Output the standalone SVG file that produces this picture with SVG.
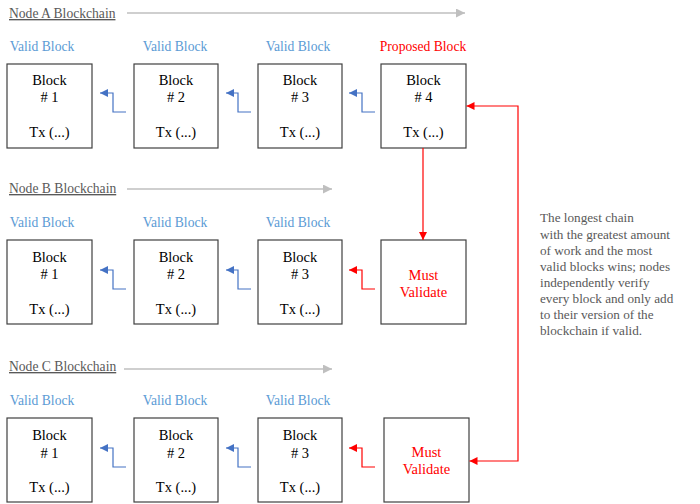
<svg xmlns="http://www.w3.org/2000/svg" width="700" height="504" viewBox="0 0 700 504">
<style>
text{font-family:"Liberation Serif","Times New Roman",serif}
.box{fill:#fff;stroke:#404040;stroke-width:1.2}
.bt{font-size:14.5px;fill:#000;text-anchor:middle}
.rt{font-size:14.5px;fill:#ff0000;text-anchor:middle}
.vl{font-size:13.6px;fill:#5b9bd5;text-anchor:middle}
.pl{font-size:13.6px;fill:#ff0000;text-anchor:middle}
.ti{font-size:13.6px;fill:#595959;text-decoration:underline}
.note{font-size:13.2px;fill:#595959}
.blue{fill:none;stroke:#4472c4;stroke-width:1.2}
.red{fill:none;stroke:#ff0000;stroke-width:1.2}
.gray{fill:none;stroke:#bfbfbf;stroke-width:1.5}
</style>
<defs>
<marker id="ab" viewBox="0 0 10 10" refX="10" refY="5" markerWidth="9" markerHeight="8" markerUnits="userSpaceOnUse" orient="auto"><path d="M0,0L10,5L0,10z" fill="#4472c4"/></marker>
<marker id="ar" viewBox="0 0 10 10" refX="10" refY="5" markerWidth="9" markerHeight="8" markerUnits="userSpaceOnUse" orient="auto-start-reverse"><path d="M0,0L10,5L0,10z" fill="#ff0000"/></marker>
<marker id="ag" viewBox="0 0 10 10" refX="10" refY="5" markerWidth="9" markerHeight="9" markerUnits="userSpaceOnUse" orient="auto"><path d="M0,0L10,5L0,10z" fill="#bfbfbf"/></marker>
</defs>

<g id="titles">
<text class="ti" x="9" y="18">Node A Blockchain</text>
<text class="ti" x="9" y="193">Node B Blockchain</text>
<text class="ti" x="9" y="371">Node C Blockchain</text>
<text class="vl" x="42" y="51">Valid Block</text>
<text class="vl" x="175" y="51">Valid Block</text>
<text class="vl" x="298" y="51">Valid Block</text>
<text class="pl" x="423" y="51">Proposed Block</text>
<text class="vl" x="42" y="227">Valid Block</text>
<text class="vl" x="175" y="227">Valid Block</text>
<text class="vl" x="298" y="227">Valid Block</text>
<text class="vl" x="42" y="405">Valid Block</text>
<text class="vl" x="175" y="405">Valid Block</text>
<text class="vl" x="298" y="405">Valid Block</text>
</g>

<g id="nodeA1"><rect class="box" x="7" y="64" width="85" height="84"/><text class="bt" x="49.5" y="85">Block</text><text class="bt" x="49.5" y="102"># 1</text><text class="bt" x="49.5" y="137">Tx (...)</text></g>
<g id="nodeA2"><rect class="box" x="134" y="64" width="84" height="84"/><text class="bt" x="176" y="85">Block</text><text class="bt" x="176" y="102"># 2</text><text class="bt" x="176" y="137">Tx (...)</text></g>
<g id="nodeA3"><rect class="box" x="258" y="64" width="84" height="84"/><text class="bt" x="300" y="85">Block</text><text class="bt" x="300" y="102"># 3</text><text class="bt" x="300" y="137">Tx (...)</text></g>
<g id="nodeA4"><rect class="box" x="381" y="64" width="85" height="84"/><text class="bt" x="423.5" y="85">Block</text><text class="bt" x="423.5" y="102"># 4</text><text class="bt" x="423.5" y="137">Tx (...)</text></g>

<g id="nodeB1"><rect class="box" x="7" y="240" width="85" height="84"/><text class="bt" x="49.5" y="262">Block</text><text class="bt" x="49.5" y="279"># 1</text><text class="bt" x="49.5" y="314">Tx (...)</text></g>
<g id="nodeB2"><rect class="box" x="134" y="240" width="84" height="84"/><text class="bt" x="176" y="262">Block</text><text class="bt" x="176" y="279"># 2</text><text class="bt" x="176" y="314">Tx (...)</text></g>
<g id="nodeB3"><rect class="box" x="258" y="240" width="84" height="84"/><text class="bt" x="300" y="262">Block</text><text class="bt" x="300" y="279"># 3</text><text class="bt" x="300" y="314">Tx (...)</text></g>
<g id="nodeB4"><rect class="box" x="381" y="240" width="85" height="84"/><text class="rt" x="423.5" y="280">Must</text><text class="rt" x="423.5" y="297">Validate</text></g>

<g id="nodeC1"><rect class="box" x="7" y="418" width="85" height="84"/><text class="bt" x="49.5" y="440">Block</text><text class="bt" x="49.5" y="458"># 1</text><text class="bt" x="49.5" y="492">Tx (...)</text></g>
<g id="nodeC2"><rect class="box" x="134" y="418" width="84" height="84"/><text class="bt" x="176" y="440">Block</text><text class="bt" x="176" y="458"># 2</text><text class="bt" x="176" y="492">Tx (...)</text></g>
<g id="nodeC3"><rect class="box" x="258" y="418" width="84" height="84"/><text class="bt" x="300" y="440">Block</text><text class="bt" x="300" y="458"># 3</text><text class="bt" x="300" y="492">Tx (...)</text></g>
<g id="nodeC4"><rect class="box" x="384" y="418" width="85" height="84"/><text class="rt" x="426.5" y="457">Must</text><text class="rt" x="426.5" y="474">Validate</text></g>

<g id="note">
<text class="note" x="540" y="222">The longest chain</text>
<text class="note" x="540" y="239">with the greatest amount</text>
<text class="note" x="540" y="255">of work and the most</text>
<text class="note" x="540" y="271">valid blocks wins; nodes</text>
<text class="note" x="540" y="287">independently verify</text>
<text class="note" x="540" y="303">every block and only add</text>
<text class="note" x="540" y="319">to their version of the</text>
<text class="note" x="540" y="335">blockchain if valid.</text>
</g>

<g id="connectors">
<path class="gray" d="M127,13H465" marker-end="url(#ag)"/>
<path class="gray" d="M127,189H332" marker-end="url(#ag)"/>
<path class="gray" d="M124,369H332" marker-end="url(#ag)"/>
<path class="blue" d="M126,112H113V93H100" marker-end="url(#ab)"/>
<path class="blue" d="M251,112H238V93H226" marker-end="url(#ab)"/>
<path class="blue" d="M375,112H362V93H349" marker-end="url(#ab)"/>
<path class="blue" d="M126,289H113V270H100" marker-end="url(#ab)"/>
<path class="blue" d="M251,289H238V270H226" marker-end="url(#ab)"/>
<path class="red" d="M375,289H362V270H349" marker-end="url(#ar)"/>
<path class="blue" d="M126,467H113V448H100" marker-end="url(#ab)"/>
<path class="blue" d="M251,467H238V448H226" marker-end="url(#ab)"/>
<path class="red" d="M375,467H362V448H349" marker-end="url(#ar)"/>
<path class="red" d="M423,148V240" marker-end="url(#ar)"/>
<path class="red" d="M466.5,106H518V461H469.5" marker-start="url(#ar)" marker-end="url(#ar)"/>
</g>
</svg>
